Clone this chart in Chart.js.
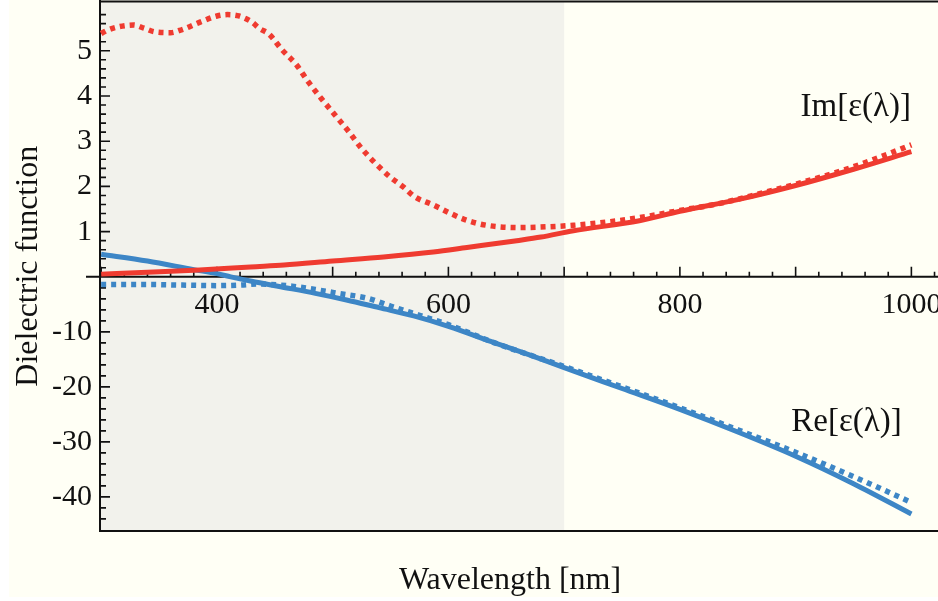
<!DOCTYPE html>
<html><head><meta charset="utf-8">
<script src="https://cdn.jsdelivr.net/npm/chart.js@4.4.1/dist/chart.umd.min.js"></script>
<style>
html,body{margin:0;padding:0;background:#ffffff;}
#wrap{position:absolute;left:9px;top:0;width:929px;height:597px;background:#fffff5;}
canvas{display:block;}
</style></head><body>
<div id="wrap"><canvas id="c" width="929" height="597" style="width:929px;height:597px"></canvas></div>
<script>
// ---- data ----
const imSolidNm  = [300,340,385,429,458,500,544,587,616,659,680,708,765,800,852,900,950,1000];
const imSolidVal = [0.06,0.10,0.15,0.22,0.26,0.35,0.44,0.55,0.65,0.80,0.88,1.02,1.24,1.45,1.72,2.02,2.38,2.77];

const imDotNm  = [300,305,315,328,337,346,360,370,386,400,409,419,430,437,445,456,469,479,490,502,514,525,537,550,561,571,587,602,616,633,662,688,708,740,770,800,830,860,900,940,970,1000];
const imDotVal = [5.38,5.45,5.53,5.57,5.50,5.42,5.40,5.47,5.64,5.77,5.80,5.77,5.64,5.49,5.37,5.03,4.68,4.31,3.95,3.58,3.21,2.84,2.51,2.20,1.99,1.77,1.59,1.40,1.25,1.14,1.09,1.11,1.14,1.22,1.33,1.47,1.60,1.78,2.05,2.35,2.62,2.92];

const reSolidNm  = [300,340,380,400,412,430,455,485,512,540,570,600,640,670,700,750,800,850,900,950,1000];
const reSolidVal = [0.50,0.35,0.16,0.07,0.0,-0.8,-1.8,-3.0,-4.2,-5.6,-7.1,-9.0,-12.0,-14.2,-16.5,-20.3,-24.1,-28.2,-32.6,-37.6,-43.1];

const reDotNm  = [300,340,370,400,420,435,465,485,505,530,550,575,600,640,700,750,800,850,900,950,1000];
const reDotVal = [-1.4,-1.4,-1.5,-1.6,-1.5,-1.3,-1.7,-2.3,-3.0,-3.9,-5.3,-7.0,-8.7,-12.0,-16.3,-20.0,-23.8,-27.8,-31.9,-36.3,-41.0];

const xTickLabels   = [400,600,800,1000];
const yTickLabelsPos = [1,2,3,4,5];
const yTickLabelsNeg = [-10,-20,-30,-40];
const shadedRange = [299,700];

// ---- broken y scale: negative values compressed ----
const K = 5.5/45.2;
const fwd = v => v >= 0 ? v : v*K;
const inv = v => v >= 0 ? v : v/K;

const RED = '#ef3b30', BLUE = '#3d86c6';
const FONT = 'Liberation Serif';

const pts = (xs, ys) => xs.map((x,i)=>({x:x, y:fwd(ys[i])}));

const yTickValues = [];
for (let v=-44; v<=-2; v+=2) yTickValues.push(v);
for (let i=1;i<=29;i++) yTickValues.push(Math.round(i*0.2*10)/10);
const yLabelSet = new Set([...yTickLabelsPos, ...yTickLabelsNeg]);

const axesPlugin = {
  id:'axesPlugin',
  beforeDatasetsDraw(chart){
    const {ctx, chartArea:a, scales:{x,y}} = chart;
    ctx.save();
    // shaded region
    ctx.fillStyle = '#f2f2ec';
    const sx0 = Math.max(a.left, x.getPixelForValue(shadedRange[0]));
    const sx1 = x.getPixelForValue(shadedRange[1]);
    ctx.fillRect(sx0, a.top, sx1-sx0, a.bottom-a.top);
    ctx.strokeStyle = '#111'; ctx.lineWidth = 2;
    const y0 = y.getPixelForValue(0);
    // frame
    ctx.beginPath();
    ctx.moveTo(a.left, 0); ctx.lineTo(a.left, a.bottom+1);
    ctx.moveTo(a.left, a.top); ctx.lineTo(a.right, a.top);
    ctx.moveTo(a.left-1, a.bottom); ctx.lineTo(a.right, a.bottom);
    ctx.moveTo(a.left-14, y0); ctx.lineTo(a.right, y0);
    ctx.stroke();
    // x ticks
    ctx.lineWidth = 1.6;
    ctx.beginPath();
    for (let v=300; v<=1020; v+=20){
      const px = x.getPixelForValue(v);
      const len = (v%100===0) ? 10 : 5;
      ctx.moveTo(px, y0); ctx.lineTo(px, y0-len);
    }
    // y ticks
    yTickValues.forEach(v=>{
      const py = y.getPixelForValue(fwd(v));
      const len = yLabelSet.has(v) ? 10 : 6;
      ctx.moveTo(a.left, py); ctx.lineTo(a.left+len, py);
    });
    ctx.stroke();
    // x tick labels below the zero line
    ctx.fillStyle = '#111';
    ctx.font = '30px "'+FONT+'"';
    ctx.textAlign = 'center'; ctx.textBaseline = 'alphabetic';
    xTickLabels.forEach(v=>{
      ctx.fillText(String(v), x.getPixelForValue(v), y0+36);
    });
    ctx.restore();
  },
  afterDatasetsDraw(chart){
    const {ctx, scales:{x,y}} = chart;
    ctx.save();
    ctx.fillStyle = '#111';
    ctx.textAlign = 'center'; ctx.textBaseline = 'alphabetic';
    ctx.font = '33px "'+FONT+'"';
    ctx.fillText('Im[\u03b5(\u03bb)]', x.getPixelForValue(952), y.getPixelForValue(3.55));
    ctx.fillText('Re[\u03b5(\u03bb)]', x.getPixelForValue(944), y.getPixelForValue(fwd(-28)));
    ctx.font = '32px "'+FONT+'"';
    ctx.fillText('Wavelength [nm]', 501, 589);
    ctx.restore();
  }
};

new Chart(document.getElementById('c'), {
  type:'line',
  data:{
    datasets:[
      {label:'Im solid', data:pts(imSolidNm, imSolidVal), borderColor:RED, borderWidth:5, pointRadius:0, cubicInterpolationMode:'monotone', borderCapStyle:'butt'},
      {label:'Re solid', data:pts(reSolidNm, reSolidVal), borderColor:BLUE, borderWidth:5, pointRadius:0, cubicInterpolationMode:'monotone', borderCapStyle:'butt'},
      {label:'Im dotted', data:pts(imDotNm, imDotVal), borderColor:RED, borderWidth:5.5, borderDash:[5,5], pointRadius:0, cubicInterpolationMode:'monotone', borderCapStyle:'butt'},
      {label:'Re dotted', data:pts(reDotNm, reDotVal), borderColor:BLUE, borderWidth:5.5, borderDash:[5,5], pointRadius:0, cubicInterpolationMode:'monotone', borderCapStyle:'butt'}
    ]
  },
  options:{
    responsive:false, animation:false, devicePixelRatio:1,
    layout:{padding:{top:1.5, bottom:66, left:0, right:0}},
    plugins:{legend:{display:false}, tooltip:{enabled:false}},
    scales:{
      x:{type:'linear', min:299, max:1023, display:false},
      y:{type:'linear', min:fwd(-46.2), max:6.09,
        afterBuildTicks: s => { s.ticks = yTickValues.map(v=>({value:fwd(v)})); },
        afterFit: s => { s.width = 91; s.paddingTop = 0; s.paddingBottom = 0; },
        ticks:{autoSkip:false, padding:8, color:'#111', font:{family:FONT, size:30},
          callback:(val)=>{ const r = Math.round(inv(val)*10)/10; return yLabelSet.has(r) ? String(r) : ''; }},
        grid:{display:false, drawTicks:false},
        border:{display:false},
        title:{display:true, text:'Dielectric function', color:'#111', font:{family:FONT, size:32}, padding:{top:0,bottom:0}}
      }
    }
  },
  plugins:[axesPlugin]
});
</script>
</body></html>
